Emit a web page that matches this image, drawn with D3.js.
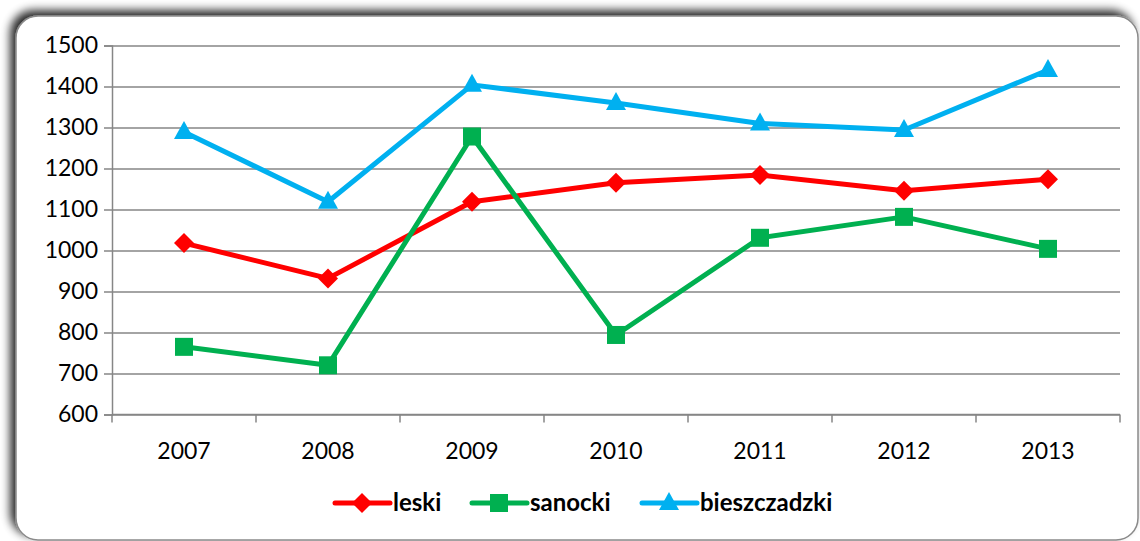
<!DOCTYPE html>
<html>
<head>
<meta charset="utf-8">
<script src="https://cdn.jsdelivr.net/npm/d3@7"></script>
<style>
  html, body { margin: 0; padding: 0; background: #fff; }
  svg { display: block; font-family: Lato, "Open Sans", sans-serif; }
</style>
</head>
<body>
<div id="chart"></div>
<script>
// --- Data ---
const years = ['2007', '2008', '2009', '2010', '2011', '2012', '2013'];
const leski = [1018, 932, 1119, 1165, 1184, 1146, 1174];
const sanocki = [765, 720, 1278, 794, 1031, 1082, 1004];
const bieszczadzki = [1289, 1119, 1404, 1360, 1310, 1294, 1440];
const yTicks = [600, 700, 800, 900, 1000, 1100, 1200, 1300, 1400, 1500];

const series = [
  { name: 'leski', values: leski, color: '#FF0000', marker: 'diamond' },
  { name: 'sanocki', values: sanocki, color: '#00B050', marker: 'square' },
  { name: 'bieszczadzki', values: bieszczadzki, color: '#00B0F0', marker: 'triangle' },
];

const width = 1140, height = 541;
const svg = d3.select('#chart').append('svg')
  .attr('width', width).attr('height', height);

// Frame with soft grey shadow on the top/left
const defs = svg.append('defs');
const f = defs.append('filter').attr('id', 'shadow')
  .attr('x', '-5%').attr('y', '-10%').attr('width', '110%').attr('height', '120%');
f.append('feGaussianBlur').attr('in', 'SourceAlpha').attr('stdDeviation', 5).attr('result', 'b');
f.append('feOffset').attr('in', 'b').attr('dx', -5).attr('dy', -5).attr('result', 'o');
f.append('feComponentTransfer').attr('in', 'o').attr('result', 'o2')
  .append('feFuncA').attr('type', 'linear').attr('slope', 0.85);
const fm = f.append('feMerge');
fm.append('feMergeNode').attr('in', 'o2');
fm.append('feMergeNode').attr('in', 'SourceGraphic');

svg.append('rect')
  .attr('x', 16).attr('y', 16)
  .attr('width', 1122).attr('height', 524)
  .attr('rx', 22).attr('ry', 22)
  .attr('fill', '#fff')
  .attr('stroke', '#8a8a8a').attr('stroke-width', 1.5)
  .attr('filter', 'url(#shadow)');

// --- Scales ---
const x = d3.scaleBand().domain(years).range([112, 1120]).padding(0);
const y = d3.scaleLinear().domain([600, 1500]).range([414.5, 45.5]);
const cx = d => x(d) + x.bandwidth() / 2;

// Gridlines
svg.append('g')
  .attr('transform', 'translate(112,0)')
  .call(d3.axisLeft(y).tickValues(yTicks).tickFormat('').tickSize(-1008))
  .call(g => g.select('.domain').remove())
  .call(g => g.selectAll('line').attr('stroke', '#868686').attr('stroke-width', 1.5));

// Y axis
svg.append('g')
  .attr('transform', 'translate(112,0)')
  .call(d3.axisLeft(y).tickValues(yTicks).tickFormat(d3.format('d')).tickSize(8).tickPadding(6))
  .call(g => g.select('.domain').attr('stroke', '#868686').attr('stroke-width', 1.5))
  .call(g => g.selectAll('line').attr('stroke', '#868686').attr('stroke-width', 1.5))
  .call(g => g.selectAll('text').attr('font-size', 23).attr('fill', '#000')
    .attr('font-family', 'Lato, sans-serif'));

// X axis: ticks at band boundaries, labels centred
const xAxis = svg.append('g').attr('transform', 'translate(0,414.5)');
xAxis.append('line')
  .attr('x1', 112).attr('x2', 1120)
  .attr('stroke', '#868686').attr('stroke-width', 1.5);
xAxis.selectAll('.tk').data(years.concat(['end'])).join('line')
  .attr('class', 'tk')
  .attr('x1', d => d === 'end' ? 1120 : x(d))
  .attr('x2', d => d === 'end' ? 1120 : x(d))
  .attr('y1', 0).attr('y2', 8)
  .attr('stroke', '#868686').attr('stroke-width', 1.5);
xAxis.selectAll('.lbl').data(years).join('text')
  .attr('class', 'lbl')
  .attr('x', d => cx(d)).attr('y', 44)
  .attr('text-anchor', 'middle')
  .attr('font-size', 23)
  .text(d => d);

// Marker drawing
function drawMarker(g, type, color) {
  if (type === 'diamond') {
    g.append('path').attr('d', 'M0,-10L10,0L0,10L-10,0Z').attr('fill', color);
  } else if (type === 'square') {
    g.append('rect').attr('x', -9).attr('y', -9).attr('width', 18).attr('height', 18).attr('fill', color);
  } else {
    g.append('path').attr('d', 'M0,-11L10,7L-10,7Z').attr('fill', color);
  }
}

// Lines + markers
const line = d3.line().x((d, i) => cx(years[i])).y(d => y(d));
series.forEach(s => {
  svg.append('path')
    .datum(s.values)
    .attr('d', line)
    .attr('fill', 'none')
    .attr('stroke', s.color)
    .attr('stroke-width', 5)
    .attr('stroke-linejoin', 'round');
  s.values.forEach((v, i) => {
    const g = svg.append('g').attr('transform', `translate(${cx(years[i])},${y(v)})`);
    drawMarker(g, s.marker, s.color);
  });
});

// Legend
const legendX = [335, 472, 642];
series.forEach((s, i) => {
  const g = svg.append('g').attr('transform', `translate(${legendX[i]},503)`);
  g.append('line').attr('x1', 0).attr('x2', 55)
    .attr('stroke', s.color).attr('stroke-width', 5).attr('stroke-linecap', 'round');
  const m = g.append('g').attr('transform', 'translate(27,0)');
  drawMarker(m, s.marker, s.color);
  g.append('text')
    .attr('x', 58).attr('y', 8)
    .attr('font-size', 24).attr('font-weight', 'bold')
    .text(s.name);
});
</script>
</body>
</html>
